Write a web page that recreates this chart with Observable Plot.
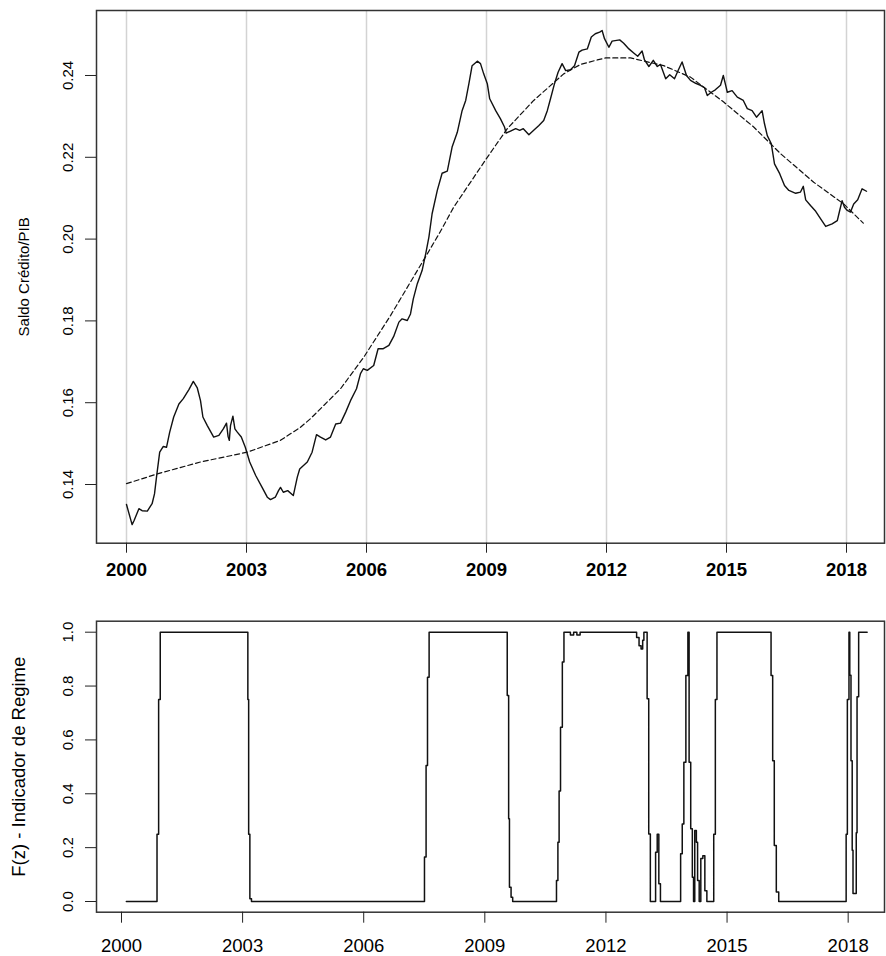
<!DOCTYPE html>
<html><head><meta charset="utf-8">
<script src="https://cdn.jsdelivr.net/npm/d3@7"></script>
<script src="https://cdn.jsdelivr.net/npm/@observablehq/plot@0.6"></script>
<style>html,body{margin:0;padding:0;background:#fff}svg{display:block}</style>
</head><body><div id="chart"></div>
<script>
const FONT = "'Liberation Sans', Arial, sans-serif";
const years = [2000, 2003, 2006, 2009, 2012, 2015, 2018];
const topYTicks = [0.14, 0.16, 0.18, 0.20, 0.22, 0.24];
const botYTicks = [0, 0.2, 0.4, 0.6, 0.8, 1.0];
const topTitle = "Saldo Crédito/PIB";
const botTitle = "F(z) - Indicador de Regime";

const creditT = [2000.00,2000.14,2000.19,2000.31,2000.39,2000.52,2000.64,2000.70,2000.75,2000.83,2000.92,2001.00,2001.08,2001.18,2001.31,2001.42,2001.56,2001.67,2001.77,2001.85,2001.91,2002.02,2002.18,2002.31,2002.42,2002.50,2002.54,2002.57,2002.60,2002.66,2002.71,2002.77,2002.87,2002.97,2003.08,2003.23,2003.39,2003.52,2003.60,2003.72,2003.80,2003.85,2003.92,2004.03,2004.17,2004.27,2004.33,2004.52,2004.64,2004.75,2004.85,2004.98,2005.10,2005.23,2005.35,2005.48,2005.60,2005.75,2005.85,2005.92,2006.02,2006.18,2006.29,2006.42,2006.56,2006.68,2006.81,2006.89,2007.02,2007.10,2007.17,2007.27,2007.39,2007.48,2007.56,2007.64,2007.77,2007.89,2008.02,2008.14,2008.27,2008.39,2008.48,2008.56,2008.64,2008.77,2008.85,2008.93,2009.02,2009.08,2009.23,2009.35,2009.45,2009.49,2009.60,2009.73,2009.83,2009.92,2010.06,2010.18,2010.31,2010.43,2010.52,2010.60,2010.70,2010.79,2010.89,2010.98,2011.10,2011.20,2011.31,2011.39,2011.52,2011.62,2011.72,2011.83,2011.89,2011.95,2012.06,2012.14,2012.33,2012.43,2012.56,2012.68,2012.78,2012.89,2012.95,2013.06,2013.17,2013.27,2013.35,2013.48,2013.58,2013.70,2013.79,2013.89,2014.00,2014.10,2014.23,2014.35,2014.45,2014.52,2014.62,2014.72,2014.85,2014.92,2014.98,2015.02,2015.14,2015.27,2015.42,2015.52,2015.64,2015.75,2015.89,2015.95,2016.02,2016.12,2016.20,2016.33,2016.45,2016.56,2016.73,2016.85,2016.92,2016.98,2017.10,2017.23,2017.35,2017.48,2017.64,2017.77,2017.83,2017.89,2017.95,2018.02,2018.10,2018.18,2018.28,2018.39,2018.50];
const creditV = [0.1351,0.1302,0.1312,0.1341,0.1336,0.1335,0.1353,0.1377,0.1418,0.1479,0.1493,0.1491,0.1528,0.1565,0.1597,0.1610,0.1632,0.1652,0.1636,0.1605,0.1565,0.1544,0.1516,0.1520,0.1536,0.1550,0.1517,0.1508,0.1544,0.1567,0.1536,0.1528,0.1516,0.1491,0.1455,0.1422,0.1393,0.1369,0.1363,0.1369,0.1385,0.1393,0.1381,0.1385,0.1373,0.1418,0.1438,0.1455,0.1479,0.1522,0.1516,0.1509,0.1516,0.1548,0.1550,0.1577,0.1605,0.1634,0.1671,0.1683,0.1679,0.1691,0.1732,0.1732,0.1740,0.1762,0.1797,0.1805,0.1801,0.1817,0.1854,0.1891,0.1923,0.1964,0.2005,0.2062,0.2119,0.2161,0.2166,0.2225,0.2261,0.2314,0.2339,0.2380,0.2424,0.2435,0.2429,0.2404,0.2380,0.2343,0.2314,0.2294,0.2274,0.2259,0.2264,0.2270,0.2266,0.2270,0.2255,0.2266,0.2278,0.2290,0.2314,0.2343,0.2380,0.2408,0.2429,0.2412,0.2414,0.2424,0.2457,0.2462,0.2465,0.2494,0.2502,0.2506,0.2510,0.2490,0.2469,0.2484,0.2487,0.2479,0.2465,0.2455,0.2447,0.2460,0.2438,0.2422,0.2437,0.2422,0.2427,0.2392,0.2402,0.2392,0.2412,0.2433,0.2400,0.2388,0.2381,0.2376,0.2370,0.2351,0.2359,0.2365,0.2376,0.2400,0.2376,0.2359,0.2363,0.2347,0.2339,0.2319,0.2314,0.2298,0.2314,0.2282,0.2253,0.2233,0.2184,0.2160,0.2131,0.2119,0.2112,0.2115,0.2129,0.2096,0.2082,0.2068,0.2050,0.2031,0.2037,0.2045,0.2070,0.2094,0.2078,0.2070,0.2066,0.2086,0.2096,0.2123,0.2117];

const trendT = [2000.00,2000.77,2001.85,2003.02,2003.85,2004.35,2004.60,2005.35,2005.93,2006.60,2007.27,2007.52,2007.85,2008.18,2009.02,2009.52,2010.18,2010.93,2011.35,2011.77,2011.98,2012.60,2013.43,2014.10,2014.93,2015.68,2016.35,2017.18,2017.93,2018.42];
const trendV = [0.1402,0.1426,0.1455,0.1479,0.1508,0.1540,0.1561,0.1634,0.1711,0.1813,0.1923,0.1964,0.2019,0.2078,0.2200,0.2270,0.2339,0.2404,0.2427,0.2438,0.2443,0.2443,0.2424,0.2396,0.2335,0.2274,0.2209,0.2139,0.2086,0.2039];

const regimeT = [2000.12,2000.88,2000.92,2000.96,2003.13,2003.15,2003.18,2003.22,2007.505,2007.545,2007.58,2007.62,2009.555,2009.59,2009.61,2009.65,2009.69,2010.775,2010.81,2010.84,2010.875,2010.92,2010.96,2011.12,2011.20,2011.28,2011.36,2012.76,2012.82,2012.87,2012.91,2012.94,2013.02,2013.06,2013.10,2013.23,2013.27,2013.31,2013.35,2013.85,2013.89,2013.93,2013.98,2014.03,2014.06,2014.10,2014.14,2014.17,2014.20,2014.24,2014.27,2014.31,2014.35,2014.40,2014.45,2014.50,2014.67,2014.71,2014.75,2016.09,2016.13,2016.17,2016.22,2016.28,2017.95,2017.98,2018.02,2018.04,2018.07,2018.10,2018.12,2018.20,2018.22,2018.26,2018.47];
const regimeV = [0,0.25,0.75,1,0.75,0.25,0.01,0,0.165,0.505,0.833,1,0.765,0.307,0.053,0.016,0,0.078,0.22,0.41,0.647,0.889,1,0.99,1,0.99,1,0.98,0.95,0.938,0.97,1,0.753,0.251,0,0.183,0.25,0.066,0,0.177,0.288,0.517,0.839,1,0.517,0.27,0.09,0,0.264,0.22,0.078,0,0.16,0.17,0.04,0,0.25,0.75,1,0.839,0.523,0.208,0.035,0,0.25,0.75,1,0.84,0.523,0.19,0.03,0.255,0.76,1,1];

const credit = creditT.map((t, i) => ({t, v: creditV[i]}));
const trend = trendT.map((t, i) => ({t, v: trendV[i]}));
const regime = regimeT.map((t, i) => ({t, v: regimeV[i]}));

const topChart = Plot.plot({
  width: 886, height: 590,
  marginLeft: 96, marginRight: 2, marginTop: 10, marginBottom: 47.3,
  style: {fontFamily: FONT, background: "#fff", color: "#000"},
  x: {domain: [1999.25, 2018.95]},
  y: {domain: [0.12565, 0.25589]},
  marks: [
    Plot.ruleX(years, {stroke: "#d3d3d3", strokeWidth: 1.5}),
    Plot.line(trend, {x: "t", y: "v", stroke: "#111", strokeWidth: 1.2, strokeDasharray: "5,3"}),
    Plot.line(credit, {x: "t", y: "v", stroke: "#111", strokeWidth: 1.4, strokeLinejoin: "round"}),
    Plot.frame({stroke: "#333", strokeWidth: 1.5}),
    Plot.axisX(years, {tickSize: 10, tickPadding: 10, tickFormat: d => String(d), fontSize: 18.5, fontWeight: "bold", label: null, stroke: "#222"}),
    Plot.axisY(topYTicks, {tickSize: 11, tickPadding: 13, tickRotate: -90, tickFormat: d3.format(".2f"), fontSize: 15, label: null, stroke: "#222"}),
    Plot.text([topTitle], {frameAnchor: "left", rotate: -90, dx: -68, lineAnchor: "bottom", textAnchor: "middle", fontSize: 15, fill: "#000"})
  ]
});

const botChart = Plot.plot({
  width: 886, height: 366,
  marginLeft: 96, marginRight: 2, marginTop: 30.7, marginBottom: 44.3,
  style: {fontFamily: FONT, background: "#fff", color: "#000"},
  x: {domain: [1999.381, 2018.90]},
  y: {domain: [-0.0397, 1.0408]},
  marks: [
    Plot.line(regime, {x: "t", y: "v", curve: "step-after", stroke: "#111", strokeWidth: 1.5}),
    Plot.frame({stroke: "#333", strokeWidth: 1.5}),
    Plot.axisX(years, {tickSize: 11, tickPadding: 15.6, tickFormat: d => String(d), fontSize: 18.5, label: null, stroke: "#222"}),
    Plot.axisY(botYTicks, {tickSize: 11, tickPadding: 13, tickRotate: -90, tickFormat: d3.format(".1f"), fontSize: 15, label: null, stroke: "#222"}),
    Plot.text([botTitle], {frameAnchor: "left", rotate: -90, dx: -72, lineAnchor: "bottom", textAnchor: "middle", fontSize: 18.5, fill: "#000"})
  ]
});

const root = document.getElementById("chart");
root.appendChild(topChart);
root.appendChild(botChart);
</script>
</body></html>
